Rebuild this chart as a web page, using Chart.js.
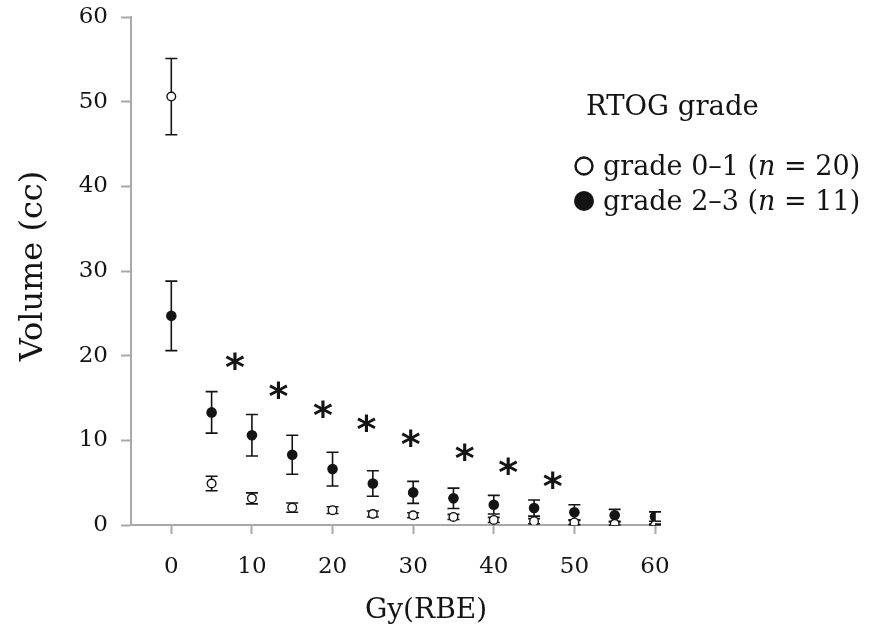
<!DOCTYPE html>
<html>
<head>
<meta charset="utf-8">
<script src="https://cdn.jsdelivr.net/npm/chart.js@4"></script>
<style>
    html, body { margin: 0; padding: 0; background: #ffffff; }
    #wrap { position: relative; width: 869px; height: 630px; }
</style>
</head>
<body>
<div id="wrap"><canvas id="chart"></canvas></div>
<script>
// dose levels on the x axis, Gy(RBE)
const doseGy = [0, 5, 10, 15, 20, 25, 30, 35, 40, 45, 50, 55, 60];

// grade 0-1 (n = 20): mean volume and error bar half length, cc
const lowGradeMean = [50.6, 4.9, 3.15, 2.05, 1.75, 1.3, 1.15, 0.95, 0.6, 0.45, 0.3, 0.15, 0.0];
const lowGradeErr = [4.5, 0.85, 0.65, 0.55, 0.4, 0.35, 0.3, 0.3, 0.3, 0.3, 0.25, 0.2, 0.1];

// grade 2-3 (n = 11)
const highGradeMean = [24.7, 13.3, 10.6, 8.3, 6.6, 4.9, 3.85, 3.15, 2.4, 2.0, 1.5, 1.15, 1.0];
const highGradeErr = [4.1, 2.45, 2.45, 2.3, 2.0, 1.5, 1.3, 1.2, 1.1, 0.95, 0.9, 0.7, 0.55];

// significance markers
const starDose = [7.9, 13.3, 18.8, 24.2, 29.7, 36.4, 41.8, 47.3];
const starVolume = [19.4, 15.9, 13.7, 12.0, 10.3, 8.65, 6.97, 5.3];

const yTicks = [0, 10, 20, 30, 40, 50, 60];
const xTicks = [0, 10, 20, 30, 40, 50, 60];

const SERIF = "'DejaVu Serif', serif";
const AXIS_GREY = "#a9a9a9";
const INK = "#141414";

const errorBarPlugin = {
    id: "errorBars",
    beforeDatasetsDraw(chart) {
        const { ctx, scales } = chart;
        const sets = [
            { mean: lowGradeMean, err: lowGradeErr },
            { mean: highGradeMean, err: highGradeErr },
        ];
        ctx.save();
        ctx.strokeStyle = INK;
        ctx.lineWidth = 1.6;
        sets.forEach((set) => {
            doseGy.forEach((dose, i) => {
                const x = scales.x.getPixelForValue(dose);
                const top = scales.y.getPixelForValue(set.mean[i] + set.err[i]);
                const bottom = scales.y.getPixelForValue(Math.max(0, set.mean[i] - set.err[i]));
                ctx.beginPath();
                ctx.moveTo(x, top);
                ctx.lineTo(x, bottom);
                ctx.moveTo(x - 6, top);
                ctx.lineTo(x + 6, top);
                ctx.moveTo(x - 6, bottom);
                ctx.lineTo(x + 6, bottom);
                ctx.stroke();
            });
        });
        ctx.restore();
    },
};

const annotationPlugin = {
    id: "annotations",
    afterDraw(chart) {
        const { ctx, scales } = chart;
        ctx.save();

        // asterisks
        ctx.fillStyle = INK;
        ctx.font = "bold 38px 'DejaVu Sans', sans-serif";
        ctx.textAlign = "center";
        ctx.textBaseline = "alphabetic";
        const m = ctx.measureText("*");
        const mid = (m.actualBoundingBoxAscent - m.actualBoundingBoxDescent) / 2;
        starDose.forEach((dose, i) => {
            const x = scales.x.getPixelForValue(dose);
            const y = scales.y.getPixelForValue(starVolume[i]);
            ctx.fillText("*", x, y + mid);
        });

        // axis titles
        ctx.font = "28px " + SERIF;
        ctx.textBaseline = "middle";
        ctx.fillText("Gy(RBE)", 426, 611);
        ctx.font = "32px " + SERIF;
        ctx.translate(34, 266);
        ctx.rotate(-Math.PI / 2);
        ctx.fillText("Volume (cc)", 0, 0);
        ctx.setTransform(1, 0, 0, 1, 0, 0);

        // legend
        ctx.textAlign = "left";
        ctx.textBaseline = "alphabetic";
        ctx.font = "27.5px " + SERIF;
        ctx.fillText("RTOG grade", 586, 115);

        const rows = [
            { y: 166, filled: false, parts: ["grade 0\u20131 (", "n", " = 20)"] },
            { y: 201, filled: true, parts: ["grade 2\u20133 (", "n", " = 11)"] },
        ];
        rows.forEach((row) => {
            ctx.beginPath();
            ctx.arc(584, row.y, row.filled ? 10 : 8.5, 0, Math.PI * 2);
            if (row.filled) {
                ctx.fillStyle = INK;
                ctx.fill();
            } else {
                ctx.fillStyle = "#ffffff";
                ctx.fill();
                ctx.lineWidth = 2.4;
                ctx.strokeStyle = INK;
                ctx.stroke();
            }
            ctx.fillStyle = INK;
            let x = 603;
            const baseline = row.y + 9;
            row.parts.forEach((part, k) => {
                ctx.font = (k === 1 ? "italic " : "") + "27px " + SERIF;
                ctx.fillText(part, x, baseline);
                x += ctx.measureText(part).width;
            });
        });
        ctx.restore();
    },
};

new Chart(document.getElementById("chart"), {
    type: "scatter",
    data: {
        datasets: [
            {
                label: "grade 0\u20131 (n = 20)",
                data: doseGy.map((d, i) => ({ x: d, y: lowGradeMean[i] })),
                pointStyle: "circle",
                pointRadius: 4.3,
                pointBorderWidth: 1.4,
                pointBackgroundColor: "#ffffff",
                pointBorderColor: INK,
            },
            {
                label: "grade 2\u20133 (n = 11)",
                data: doseGy.map((d, i) => ({ x: d, y: highGradeMean[i] })),
                pointStyle: "circle",
                pointRadius: 5.3,
                pointBorderWidth: 0,
                pointBackgroundColor: INK,
                pointBorderColor: INK,
            },
        ],
    },
    options: {
        responsive: true,
        maintainAspectRatio: false,
        animation: false,
        layout: {
            padding: { top: 17, right: 214, left: 0, bottom: 0 },
        },
        plugins: {
            legend: { display: false },
            tooltip: { enabled: false },
        },
        scales: {
            x: {
                type: "linear",
                min: -5,
                max: 60,
                afterBuildTicks: (scale) => {
                    scale.ticks = xTicks.map((v) => ({ value: v }));
                },
                afterFit: (scale) => {
                    scale.height = 105;
                    scale.paddingLeft = 0;
                    scale.paddingRight = 0;
                },
                border: { color: AXIS_GREY, width: 2 },
                grid: {
                    drawOnChartArea: false,
                    drawTicks: true,
                    tickLength: 9,
                    tickWidth: 2,
                    color: AXIS_GREY,
                },
                ticks: {
                    color: INK,
                    padding: 19,
                    maxRotation: 0,
                    font: { family: SERIF, size: 23 },
                },
            },
            y: {
                min: 0,
                max: 60,
                afterBuildTicks: (scale) => {
                    scale.ticks = yTicks.map((v) => ({ value: v }));
                },
                afterFit: (scale) => {
                    scale.width = 131;
                    scale.paddingTop = 0;
                    scale.paddingBottom = 0;
                },
                border: { color: AXIS_GREY, width: 2 },
                grid: {
                    drawOnChartArea: false,
                    drawTicks: true,
                    tickLength: 10,
                    tickWidth: 2,
                    color: AXIS_GREY,
                },
                ticks: {
                    color: INK,
                    padding: 13,
                    font: { family: SERIF, size: 23 },
                },
            },
        },
    },
    plugins: [errorBarPlugin, annotationPlugin],
});
</script>
</body>
</html>
